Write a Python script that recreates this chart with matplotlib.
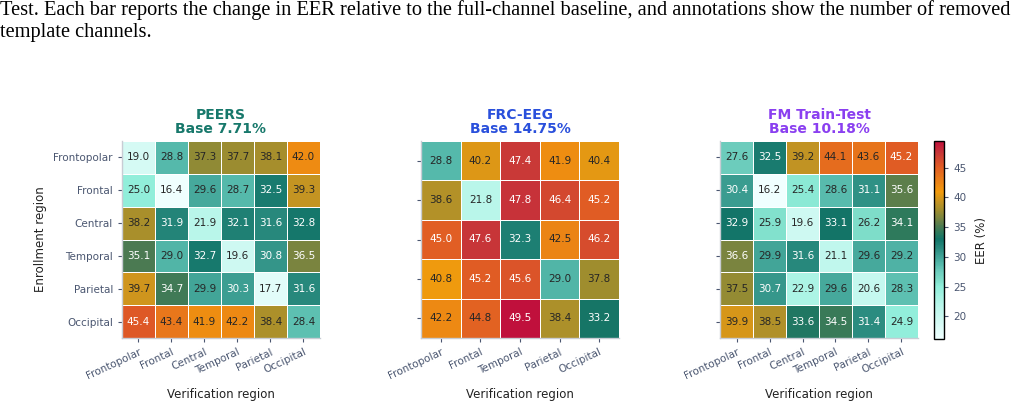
import numpy as np
import matplotlib
matplotlib.use('Agg')
import matplotlib.pyplot as plt
from matplotlib.colors import LinearSegmentedColormap, Normalize, to_rgb

# ##### DATA ######
regions6 = ['Frontopolar', 'Frontal', 'Central', 'Temporal', 'Parietal', 'Occipital']
regions5 = ['Frontopolar', 'Frontal', 'Temporal', 'Parietal', 'Occipital']

peers_eer = [
    [19.0, 28.8, 37.3, 37.7, 38.1, 42.0],
    [25.0, 16.4, 29.6, 28.7, 32.5, 39.3],
    [38.2, 31.9, 21.9, 32.1, 31.6, 32.8],
    [35.1, 29.0, 32.7, 19.6, 30.8, 36.5],
    [39.7, 34.7, 29.9, 30.3, 17.7, 31.6],
    [45.4, 43.4, 41.9, 42.2, 38.4, 28.4],
]
frc_eer = [
    [28.8, 40.2, 47.4, 41.9, 40.4],
    [38.6, 21.8, 47.8, 46.4, 45.2],
    [45.0, 47.6, 32.3, 42.5, 46.2],
    [40.8, 45.2, 45.6, 29.0, 37.8],
    [42.2, 44.8, 49.5, 38.4, 33.2],
]
fm_eer = [
    [27.6, 32.5, 39.2, 44.1, 43.6, 45.2],
    [30.4, 16.2, 25.4, 28.6, 31.1, 35.6],
    [32.9, 25.9, 19.6, 33.1, 26.2, 34.1],
    [36.6, 29.9, 31.6, 21.1, 29.6, 29.2],
    [37.5, 30.7, 22.9, 29.6, 20.6, 28.3],
    [39.9, 38.5, 33.6, 34.5, 31.4, 24.9],
]
titles = ['PEERS\nBase 7.71%', 'FRC-EEG\nBase 14.75%', 'FM Train-Test\nBase 10.18%']
title_colors = ['#17786b', '#2a50dc', '#8a3ff0']
caption = ('Test. Each bar reports the change in EER relative to the full-channel baseline, and annotations show the number of removed\n'
           'template channels.')
######################

datasets = [np.array(peers_eer), np.array(frc_eer), np.array(fm_eer)]
labels = [regions6, regions5, regions6]

vmin = min(d.min() for d in datasets)
vmax = max(d.max() for d in datasets)

# custom colormap: light cyan -> teal -> olive -> orange -> crimson
anchors = [
    (16.2, '#f0ffff'), (19.0, '#d4faf4'), (21.9, '#b8f6ea'), (25.0, '#90eeda'),
    (26.2, '#7ddcc8'), (27.6, '#6cccbc'), (28.8, '#54b8aa'), (30.3, '#3c9e92'),
    (31.6, '#27887c'), (33.0, '#127468'), (34.1, '#2e7a5c'), (35.1, '#4a7a52'),
    (36.5, '#788440'), (37.7, '#9a8c30'), (39.3, '#c49422'), (41.0, '#f29a0c'),
    (43.4, '#e8781a'), (45.3, '#e05a25'), (47.5, '#c83838'), (49.5, '#c0103c'),
]
cmap = LinearSegmentedColormap.from_list(
    'eer', [((v - anchors[0][0]) / (anchors[-1][0] - anchors[0][0]), c) for v, c in anchors])
norm = Normalize(vmin=vmin, vmax=vmax)

tick_col = '#4a5670'
spine_col = '#c8ccd4'

fig = plt.figure(figsize=(10.2, 4.07), dpi=100)
fig.text(0.0, 1.0, caption, ha='left', va='top', family='Liberation Serif',
         fontsize=14.7, color='black', linespacing=1.2)

lefts = [122, 421, 720]
for k, (data, labs) in enumerate(zip(datasets, labels)):
    ax = fig.add_axes([lefts[k] / 1020, 69 / 407, 198 / 1020, 197 / 407])
    n = data.shape[0]
    ax.pcolormesh(np.arange(n + 1), np.arange(n + 1), data, cmap=cmap, norm=norm,
                  edgecolors='white', linewidth=0.6)
    ax.set_xlim(0, n)
    ax.set_ylim(n, 0)
    for i in range(n):
        for j in range(n):
            r, g, b = to_rgb(cmap(norm(data[i, j])))
            bright = 0.299 * r + 0.587 * g + 0.114 * b
            ax.text(j + 0.5, i + 0.5, f'{data[i, j]:.1f}', ha='center', va='center',
                    fontsize=7.5, color='#262626' if bright > 0.505 else 'white')
    ax.set_xticks(np.arange(n) + 0.5)
    ax.set_xticklabels(labs, rotation=25, ha='right', rotation_mode='anchor')
    ax.set_yticks(np.arange(n) + 0.5)
    if k == 0:
        ax.set_yticklabels(labs)
        ax.set_ylabel('Enrollment region', fontsize=8.5, color='#222222', labelpad=5)
    else:
        ax.set_yticklabels([])
    ax.set_xlabel('Verification region', fontsize=8.5, color='#222222', labelpad=5)
    ax.tick_params(labelsize=7.5, colors=tick_col, length=3, width=0.8)
    for s in ['top', 'right']:
        ax.spines[s].set_visible(False)
    for s in ['left', 'bottom']:
        ax.spines[s].set_color(spine_col)
        ax.spines[s].set_linewidth(1.0)
    ax.set_title(titles[k], fontsize=10, fontweight='bold', color=title_colors[k],
                 pad=6, linespacing=1.0)

cax = fig.add_axes([934 / 1020, 68 / 407, 10 / 1020, 198 / 407])
cb = fig.colorbar(plt.cm.ScalarMappable(norm=norm, cmap=cmap), cax=cax)
cb.set_ticks([20, 25, 30, 35, 40, 45])
cb.ax.tick_params(labelsize=7.5, colors=tick_col, length=3, width=0.8)
cb.outline.set_edgecolor('black')
cb.outline.set_linewidth(1.0)
cb.set_label('EER (%)', fontsize=8.5, color='#222222', labelpad=6)

plt.savefig('out.png', dpi=100)
plt.close()
